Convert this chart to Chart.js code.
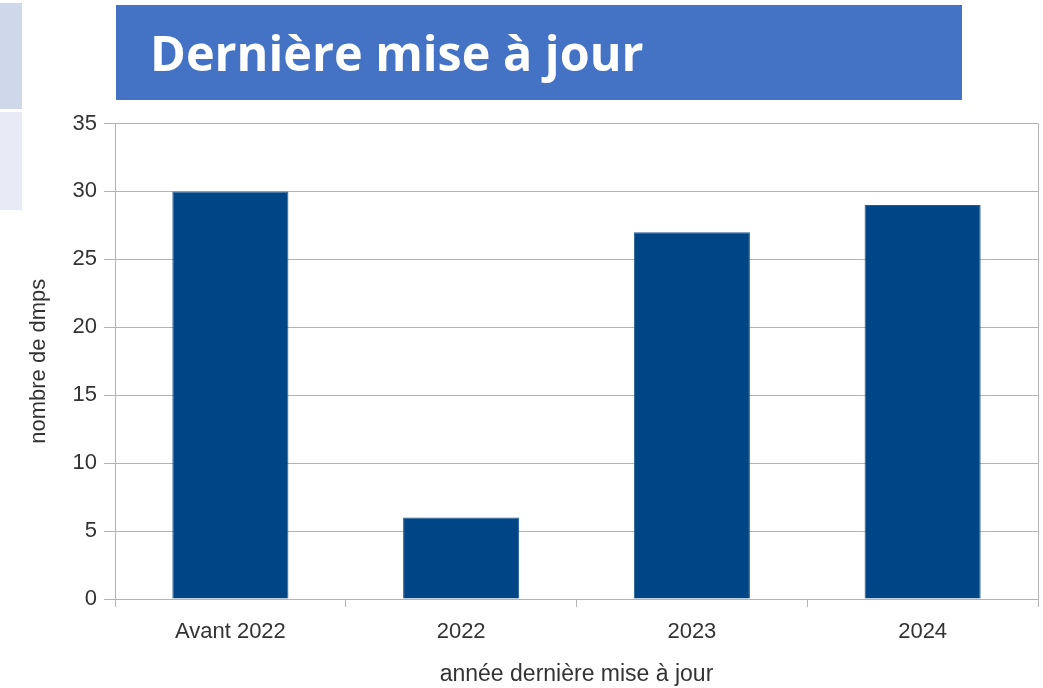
<!DOCTYPE html>
<html>
<head>
<meta charset="utf-8">
<script src="https://cdn.jsdelivr.net/npm/chart.js@4"></script>
<style>
  html, body { margin: 0; padding: 0; background: #fff; }
  body { width: 1043px; height: 688px; position: relative; overflow: hidden; }
  #side1 { position: absolute; left: 0; top: 3px; width: 22px; height: 106px; background: #cfd7eb; }
  #side2 { position: absolute; left: 0; top: 112px; width: 22px; height: 98px; background: #e8ebf5; }
  #banner {
    position: absolute; left: 116px; top: 5px; width: 846px; height: 95px;
    background: #4472c4; color: #fff; z-index: 2;
    font-family: "Open Sans", sans-serif; font-weight: 700; font-size: 48.5px;
    line-height: 95px; padding-left: 34px; box-sizing: border-box; white-space: nowrap;
  }
  #wrap { position: absolute; left: 0; top: 0; width: 1043px; height: 688px; z-index: 1; }
</style>
</head>
<body>
<div id="side1"></div>
<div id="side2"></div>
<div id="banner">Dernière mise à jour</div>
<div id="wrap"><canvas id="chart"></canvas></div>
<script>
// data
const categories = ['Avant 2022', '2022', '2023', '2024'];
const counts = [30, 6, 27, 29];
const yTicks = { min: 0, max: 35, step: 5 };

const gridGrey = '#b3b3b3';
const textDark = '#333333';

function initChart() {
    const ctx = document.getElementById('chart').getContext('2d');
    new Chart(ctx, {
        type: 'bar',
        data: {
            labels: categories,
            datasets: [{
                label: 'nombre de dmps',
                data: counts,
                backgroundColor: '#004586',
                borderColor: '#1d5a96',
                borderWidth: 1,
                categoryPercentage: 1,
                barPercentage: 0.503
            }]
        },
        options: {
            responsive: false,
            animation: false,
            layout: { padding: { top: 123.5, right: 5, left: 0, bottom: 0 } },
            plugins: { legend: { display: false }, tooltip: { enabled: false } },
            scales: {
                x: {
                    offset: true,
                    grid: {
                        offset: true,
                        drawOnChartArea: true,
                        // only the closing line on the right is drawn inside the plot
                        color: (c) => c.type === 'scale' ? gridGrey : 'rgba(0,0,0,0)',
                        tickColor: gridGrey,
                        tickLength: 8
                    },
                    border: { color: gridGrey, width: 1 },
                    ticks: {
                        color: textDark,
                        padding: 12,
                        font: { family: 'Liberation Sans', size: 22 }
                    },
                    title: {
                        display: true,
                        text: 'année dernière mise à jour',
                        color: textDark,
                        padding: { top: 0, bottom: 0 },
                        font: { family: 'Liberation Sans', size: 23 }
                    },
                    afterFit: (scale) => { scale.height = 89; }
                },
                y: {
                    min: yTicks.min,
                    max: yTicks.max,
                    grid: { color: gridGrey, tickColor: gridGrey, tickLength: 11 },
                    border: { color: gridGrey, width: 1 },
                    ticks: {
                        stepSize: yTicks.step,
                        color: textDark,
                        padding: 7,
                        font: { family: 'Liberation Sans', size: 22 }
                    },
                    title: {
                        display: true,
                        text: 'nombre de dmps',
                        color: textDark,
                        padding: { top: 26, bottom: 0 },
                        font: { family: 'Liberation Sans', size: 22 }
                    },
                    afterFit: (scale) => { scale.width = 115; }
                }
            }
        }
    });
}

const cv = document.getElementById('chart');
cv.width = 1043;
cv.height = 688;
initChart();
</script>
</body>
</html>
